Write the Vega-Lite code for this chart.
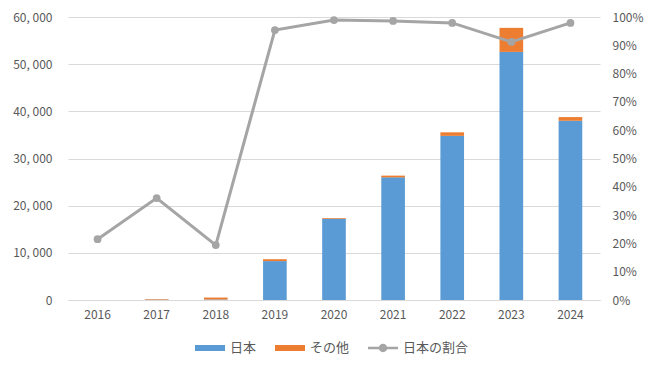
{
  "$schema": "https://vega.github.io/schema/vega-lite/v6.json",
  "autosize": "none",
  "width": 532,
  "height": 283,
  "padding": {"left": 68, "top": 17, "right": 50, "bottom": 66},
  "background": "white",
  "config": {
    "font": "Noto Sans CJK JP",
    "view": {"stroke": null},
    "axis": {"labelColor": "#595959", "labelFontSize": 12, "titleColor": "#595959", "ticks": false, "domain": false, "gridColor": "#D9D9D9", "gridWidth": 1}
  },
  "datasets": {
    "bars": [
      {"年": "2016", "系列": "日本", "件数": 3},
      {"年": "2016", "系列": "その他", "件数": 11},
      {"年": "2017", "系列": "日本", "件数": 70},
      {"年": "2017", "系列": "その他", "件数": 125},
      {"年": "2018", "系列": "日本", "件数": 100},
      {"年": "2018", "系列": "その他", "件数": 420},
      {"年": "2019", "系列": "日本", "件数": 8250},
      {"年": "2019", "系列": "その他", "件数": 400},
      {"年": "2020", "系列": "日本", "件数": 17200},
      {"年": "2020", "系列": "その他", "件数": 200},
      {"年": "2021", "系列": "日本", "件数": 26000},
      {"年": "2021", "系列": "その他", "件数": 370},
      {"年": "2022", "系列": "日本", "件数": 34800},
      {"年": "2022", "系列": "その他", "件数": 750},
      {"年": "2023", "系列": "日本", "件数": 52600},
      {"年": "2023", "系列": "その他", "件数": 5100},
      {"年": "2024", "系列": "日本", "件数": 38000},
      {"年": "2024", "系列": "その他", "件数": 780}
    ],
    "ratio": [
      {"年": "2016", "割合": 0.215},
      {"年": "2017", "割合": 0.36},
      {"年": "2018", "割合": 0.194},
      {"年": "2019", "割合": 0.954},
      {"年": "2020", "割合": 0.989},
      {"年": "2021", "割合": 0.986},
      {"年": "2022", "割合": 0.979},
      {"年": "2023", "割合": 0.912},
      {"年": "2024", "割合": 0.979}
    ]
  },
  "encoding": {
    "x": {
      "field": "年", "type": "ordinal",
      "scale": {"paddingInner": 0.6, "paddingOuter": 0.3},
      "axis": {"title": null, "labelAngle": 0, "domain": true, "domainColor": "#D9D9D9", "labelPadding": 9, "grid": false}
    }
  },
  "layer": [
    {
      "data": {"name": "bars"},
      "mark": {"type": "bar"},
      "encoding": {
        "y": {
          "field": "件数", "type": "quantitative", "stack": "zero",
          "scale": {"domain": [0, 60000], "nice": false},
          "axis": {"title": null, "tickCount": 7, "values": [0, 10000, 20000, 30000, 40000, 50000, 60000], "labelExpr": "replace(format(datum.value, ','), ',', ', ')", "labelPadding": 16, "grid": true}
        },
        "color": {
          "field": "系列", "type": "nominal",
          "scale": {"domain": ["日本", "その他", "日本の割合"], "range": ["#5B9BD5", "#ED7D31", "#A5A5A5"]},
          "legend": {
            "title": null,
            "orient": "none",
            "direction": "horizontal",
            "legendX": 127,
            "legendY": 316,
            "labelFontSize": 13,
            "labelColor": "#595959",
            "labelOffset": 5,
            "columnPadding": 18,
            "symbolSize": 900,
            "symbolStrokeWidth": 0,
            "encode": {
              "symbols": {
                "update": {
                  "shape": {"signal": "datum.label === '日本の割合' ? 'M-1,-0.09H1V0.09H-1Z M-0.28,0A0.28,0.28 0 1,1 0.28,0A0.28,0.28 0 1,1 -0.28,0Z' : 'M-1,-0.2H1V0.2H-1Z'"},
                  "strokeWidth": {"value": 0},
                  "fillOpacity": {"value": 1}
                }
              }
            }
          }
        },
        "order": {"field": "系列", "sort": "descending"}
      }
    },
    {
      "data": {"name": "ratio"},
      "mark": {"type": "line", "strokeWidth": 3, "point": {"filled": true, "size": 60}},
      "encoding": {
        "y": {
          "field": "割合", "type": "quantitative",
          "scale": {"domain": [0, 1], "nice": false},
          "axis": {"orient": "right", "title": null, "values": [0, 0.1, 0.2, 0.3, 0.4, 0.5, 0.6, 0.7, 0.8, 0.9, 1], "format": ".0%", "labelPadding": 12, "grid": false}
        },
        "color": {"datum": "日本の割合"}
      }
    }
  ],
  "resolve": {"scale": {"y": "independent"}}
}
